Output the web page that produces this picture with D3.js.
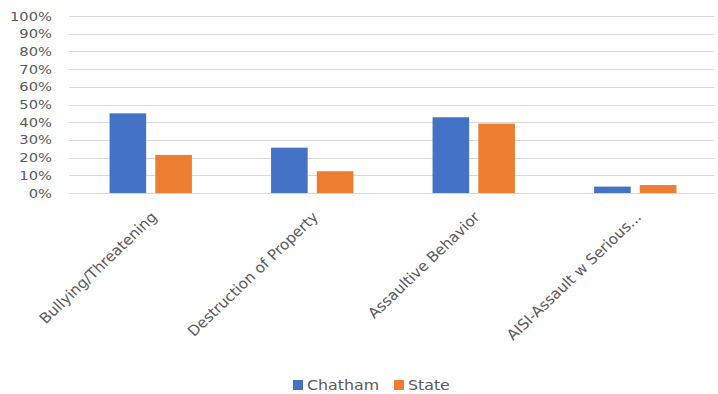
<!DOCTYPE html>
<html>
<head>
<meta charset="utf-8">
<script src="https://cdn.jsdelivr.net/npm/d3@7"></script>
<style>
  body { margin: 0; background: #fff; }
  text { font-family: "DejaVu Sans", sans-serif; fill: #595959; }
</style>
</head>
<body>
<div id="chart"></div>
<script>
// data
const categories = ["Bullying/Threatening", "Destruction of Property", "Assaultive Behavior", "AISI-Assault w Serious..."];
const seriesNames = ["Chatham", "State"];
const chatham = [0.45, 0.256, 0.428, 0.036];
const state = [0.215, 0.123, 0.392, 0.045];
const yTicks = [0, 0.1, 0.2, 0.3, 0.4, 0.5, 0.6, 0.7, 0.8, 0.9, 1];
const colors = ["#4472C4", "#ED7D31"];

const width = 718, height = 394;
const margin = {top: 16, right: 4, bottom: 201, left: 69};
const stretch = 1.13; // text in the picture is a bit wide

const svg = d3.select("#chart").append("svg")
    .attr("width", width)
    .attr("height", height);

const x0 = d3.scaleBand()
    .domain(categories)
    .range([margin.left + 1, width - 2])
    .padding(0);

const bw = x0.bandwidth();
const x1 = d3.scaleBand()
    .domain(seriesNames)
    .range([bw * 0.245, bw * 0.755])
    .paddingInner(0.2);

const y = d3.scaleLinear()
    .domain([0, 1])
    .range([height - margin.bottom, margin.top]);

// gridlines
svg.append("g")
    .selectAll("line")
    .data(yTicks)
    .enter().append("line")
    .attr("x1", margin.left)
    .attr("x2", width - margin.right)
    .attr("y1", d => Math.round(y(d)) + 0.5)
    .attr("y2", d => Math.round(y(d)) + 0.5)
    .attr("stroke", "#D9D9D9")
    .attr("stroke-width", 1);

// y labels
svg.append("g")
    .selectAll("text")
    .data(yTicks)
    .enter().append("text")
    .attr("transform", d => "translate(52," + y(d) + ") scale(" + stretch + ",1)")
    .attr("dy", "0.35em")
    .attr("text-anchor", "end")
    .attr("font-size", "13px")
    .text(d3.format(".0%"));

// bars
const rows = categories.map((c, i) => ({cat: c, values: [chatham[i], state[i]]}));

const groups = svg.append("g")
    .selectAll("g")
    .data(rows)
    .enter().append("g")
    .attr("transform", d => "translate(" + x0(d.cat) + ",0)");

groups.selectAll("rect")
    .data(d => d.values.map((v, j) => ({name: seriesNames[j], value: v, idx: j})))
    .enter().append("rect")
    .attr("x", d => x1(d.name))
    .attr("width", x1.bandwidth())
    .attr("y", d => y(d.value))
    .attr("height", d => y(0) - y(d.value))
    .attr("fill", d => colors[d.idx]);

// category labels, rotated
svg.append("g")
    .selectAll("text")
    .data(categories)
    .enter().append("text")
    .attr("text-anchor", "end")
    .attr("font-size", "14.5px")
    .attr("transform", d => "translate(" + (x0(d) + bw / 2 + 7) + "," + (y(0) + 25) + ") scale(1.05,1) rotate(-45)")
    .text(d => d);

// legend
const legend = svg.append("g")
    .attr("transform", "translate(293,380)");

const legendX = [0, 101];
const items = legend.selectAll("g")
    .data(seriesNames)
    .enter().append("g")
    .attr("transform", (d, i) => "translate(" + legendX[i] + ",0)");

items.append("rect")
    .attr("width", 10)
    .attr("height", 10)
    .attr("fill", (d, i) => colors[i]);

items.append("text")
    .attr("transform", "translate(14,5) scale(" + stretch + ",1)")
    .attr("dy", "0.35em")
    .attr("font-size", "14px")
    .text(d => d);
</script>
</body>
</html>
